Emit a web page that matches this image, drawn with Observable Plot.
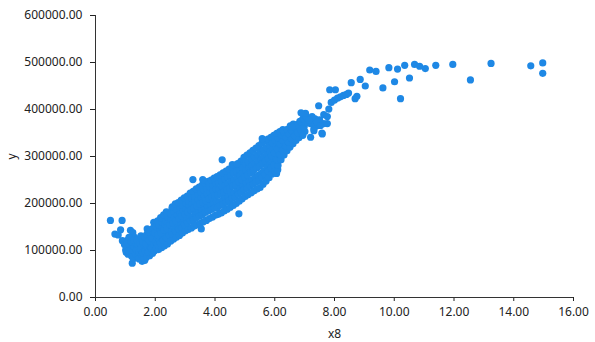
<!DOCTYPE html>
<html>
<head>
<meta charset="utf-8">
<script src="https://cdn.jsdelivr.net/npm/d3@7"></script>
<script src="https://cdn.jsdelivr.net/npm/@observablehq/plot@0.6"></script>
<style>
  html, body { margin: 0; padding: 0; background: #fff; }
  #chart svg { display: block; }
</style>
</head>
<body>
<div id="chart"></div>
<script>
const xTicks = [0, 2, 4, 6, 8, 10, 12, 14, 16];
const yTicks = [0, 100000, 200000, 300000, 400000, 500000, 600000];
const xLabel = "x8";
const yLabel = "y";

// [x8, y] pairs
const points = [
  // sparse left edge
  [0.50,164000],[0.89,164000],[0.65,135000],[0.76,133000],[0.84,144000],[1.17,143000],[1.25,138000],
  [1.31,128000],[0.95,118000],[0.90,121000],[1.23,73000],[1.56,77000],[1.65,79000],[1.73,146000],[1.95,160000],
  // main band
  [1.01,101000],[0.97,113000],[1.05,121000],[1.03,96000],
  [1.09,92000],[1.14,104000],[1.07,117000],[1.12,128000],[1.11,99000],
  [1.21,88000],[1.17,101000],[1.25,109000],[1.19,119000],
  [1.27,83000],[1.34,93000],[1.30,108000],[1.36,115000],[1.28,122000],
  [1.41,87000],[1.37,101000],[1.45,96000],[1.43,113000],[1.39,123000],
  [1.46,82000],[1.54,91000],[1.51,104000],[1.49,116000],[1.56,124000],[1.52,131000],
  [1.61,84000],[1.57,95000],[1.66,101000],[1.62,112000],[1.58,119000],[1.64,129000],
  [1.71,86000],[1.67,98000],[1.75,106000],[1.69,114000],[1.74,125000],[1.72,135000],
  [1.81,89000],[1.77,97000],[1.84,108000],[1.80,121000],[1.86,129000],[1.78,139000],
  [1.91,94000],[1.87,105000],[1.95,113000],[1.89,126000],[1.94,139000],[1.92,147000],
  [1.97,99000],[2.04,104000],[2.01,118000],[2.06,129000],[1.99,137000],[2.03,151000],[2.05,158000],
  [2.11,102000],[2.07,114000],[2.14,122000],[2.09,133000],[2.16,145000],[2.12,154000],[2.08,163000],
  [2.21,106000],[2.17,116000],[2.25,127000],[2.19,138000],[2.24,149000],[2.22,161000],[2.18,170000],
  [2.31,110000],[2.27,122000],[2.35,130000],[2.29,144000],[2.33,156000],[2.36,163000],[2.28,176000],
  [2.41,114000],[2.38,127000],[2.45,137000],[2.39,148000],[2.44,161000],[2.42,171000],[2.37,182000],
  [2.52,120000],[2.47,133000],[2.55,141000],[2.49,155000],[2.54,166000],[2.51,178000],[2.56,189000],
  [2.61,124000],[2.58,134000],[2.65,147000],[2.59,158000],[2.64,170000],[2.62,183000],[2.57,193000],
  [2.71,128000],[2.68,141000],[2.75,150000],[2.69,163000],[2.74,176000],[2.72,187000],[2.67,199000],
  [2.81,132000],[2.78,146000],[2.85,156000],[2.79,168000],[2.84,179000],[2.82,193000],[2.77,202000],
  [2.91,137000],[2.88,148000],[2.95,160000],[2.89,173000],[2.94,185000],[2.92,196000],[2.87,207000],
  [3.01,142000],[2.98,155000],[3.05,165000],[2.99,177000],[3.04,189000],[3.02,201000],[2.97,212000],
  [3.11,145000],[3.08,159000],[3.15,169000],[3.09,182000],[3.14,195000],[3.12,205000],[3.07,216000],
  [3.21,148000],[3.18,163000],[3.25,172000],[3.19,186000],[3.24,199000],[3.22,211000],[3.17,222000],
  [3.31,152000],[3.28,166000],[3.35,178000],[3.29,190000],[3.34,204000],[3.32,215000],[3.27,226000],
  [3.41,155000],[3.38,170000],[3.45,181000],[3.39,195000],[3.44,208000],[3.42,221000],[3.37,231000],
  [3.51,158000],[3.48,173000],[3.55,186000],[3.49,199000],[3.54,212000],[3.52,225000],[3.47,235000],
  [3.61,161000],[3.58,176000],[3.65,190000],[3.59,202000],[3.64,216000],[3.62,229000],[3.57,239000],
  [3.71,164000],[3.68,181000],[3.75,193000],[3.69,206000],[3.74,220000],[3.72,232000],[3.67,243000],
  [3.81,168000],[3.78,184000],[3.85,197000],[3.79,210000],[3.84,224000],[3.82,236000],[3.77,247000],
  [3.91,171000],[3.88,187000],[3.95,201000],[3.89,214000],[3.94,227000],[3.92,240000],[3.87,250000],
  [4.01,175000],[3.98,190000],[4.05,205000],[3.99,217000],[4.04,231000],[4.02,244000],[3.97,254000],
  [4.11,177000],[4.08,191000],[4.15,203000],[4.09,218000],[4.14,230000],[4.12,245000],[4.07,257000],
  [4.21,180000],[4.18,196000],[4.25,207000],[4.19,221000],[4.24,236000],[4.22,248000],[4.17,261000],
  [4.31,184000],[4.28,198000],[4.35,212000],[4.29,224000],[4.34,239000],[4.32,252000],[4.27,265000],
  [4.41,188000],[4.38,203000],[4.45,215000],[4.39,229000],[4.44,242000],[4.42,257000],[4.37,269000],
  [4.51,192000],[4.48,206000],[4.55,220000],[4.49,232000],[4.54,247000],[4.52,260000],[4.47,273000],
  [4.61,196000],[4.58,211000],[4.65,223000],[4.59,237000],[4.64,250000],[4.62,265000],[4.57,277000],
  [4.71,200000],[4.68,214000],[4.75,228000],[4.69,240000],[4.74,255000],[4.72,268000],[4.67,281000],
  [4.81,205000],[4.78,220000],[4.85,232000],[4.79,246000],[4.84,259000],[4.82,273000],[4.77,285000],
  [4.91,210000],[4.88,224000],[4.95,238000],[4.89,250000],[4.94,265000],[4.92,277000],[4.87,290000],
  [5.01,215000],[4.98,230000],[5.05,243000],[4.99,257000],[5.04,271000],[5.02,285000],[4.97,298000],
  [5.11,219000],[5.08,233000],[5.15,248000],[5.09,261000],[5.14,276000],[5.12,289000],[5.07,303000],
  [5.21,223000],[5.18,238000],[5.25,251000],[5.19,266000],[5.24,280000],[5.22,295000],[5.17,308000],
  [5.31,227000],[5.28,241000],[5.35,256000],[5.29,270000],[5.34,285000],[5.32,299000],[5.27,313000],
  [5.41,231000],[5.38,246000],[5.45,260000],[5.39,275000],[5.44,290000],[5.42,304000],[5.37,318000],
  [5.51,234000],[5.48,249000],[5.55,264000],[5.49,279000],[5.54,294000],[5.52,309000],[5.47,323000],
  [5.61,241000],[5.58,256000],[5.65,270000],[5.59,285000],[5.64,299000],[5.62,314000],[5.57,328000],
  [5.71,248000],[5.68,262000],[5.75,277000],[5.69,290000],[5.74,305000],[5.72,319000],[5.67,333000],
  [5.81,255000],[5.78,269000],[5.85,283000],[5.79,296000],[5.84,310000],[5.82,324000],[5.77,337000],
  [5.91,263000],[5.88,276000],[5.95,290000],[5.89,302000],[5.94,316000],[5.92,329000],[5.87,341000],
  [6.01,269000],[5.98,282000],[6.05,295000],[5.99,308000],[6.04,321000],[6.02,334000],[5.97,345000],
  [6.06,264000],[6.10,272000],
  [6.11,281000],[6.08,293000],[6.15,305000],[6.09,316000],[6.14,328000],[6.12,339000],[6.07,349000],
  [6.21,293000],[6.18,304000],[6.25,315000],[6.19,326000],[6.24,336000],[6.22,346000],[6.17,353000],
  [6.31,303000],[6.28,313000],[6.35,324000],[6.29,334000],[6.34,343000],[6.32,351000],[6.27,357000],
  [6.41,312000],[6.38,322000],[6.45,331000],[6.39,340000],[6.44,349000],[6.42,358000],
  [6.51,320000],[6.48,330000],[6.55,339000],[6.49,348000],[6.54,357000],[6.52,365000],
  [6.61,327000],[6.58,337000],[6.65,346000],[6.59,354000],[6.64,362000],[6.62,369000],
  [6.71,334000],[6.68,344000],[6.75,353000],[6.69,361000],[6.74,368000],
  [6.81,340000],[6.78,350000],[6.85,359000],[6.79,367000],[6.84,375000],
  [6.91,347000],[6.88,356000],[6.95,365000],[6.89,373000],[6.94,380000],
  [7.01,353000],[6.98,362000],[7.05,371000],[6.99,379000],[7.04,386000],
  // upper/lower outliers of the band
  [3.26,251000],[3.59,251000],[4.24,293000],[4.58,283000],[4.74,284000],[3.54,146000],[4.80,178000],
  [5.58,338000],[6.58,362000],
  // sparser right part
  [7.03,392000],[6.88,393000],[7.20,341000],[6.94,345000],[7.31,359000],[7.20,370000],[7.10,372000],
  [7.40,365000],[7.47,408000],[7.58,350000],[7.64,389000],[7.76,385000],[7.81,401000],[7.76,370000],
  [7.64,370000],[7.59,348000],[7.50,378000],[7.35,380000],[7.25,385000],[7.42,373000],[7.53,366000],
  [7.14,377000],[7.31,355000],[7.84,442000],[8.03,442000],[7.89,415000],[8.00,420000],[8.10,424000],
  [8.20,427000],[8.30,430000],[8.40,432000],[8.47,435000],[8.56,457000],[8.69,423000],[8.75,428000],
  [8.86,464000],[9.03,450000],[9.18,484000],[9.39,481000],[9.62,446000],[9.82,489000],[10.01,459000],
  [10.11,486000],[10.21,423000],[10.35,494000],[10.51,467000],[10.68,496000],[10.85,492000],
  [11.04,487000],[11.39,494000],[11.96,496000],[12.55,463000],[13.24,498000],[14.57,493000],
  [14.97,499000],[14.97,477000]
];

const data = points.map(([x8, y]) => ({x8, y}));

const chart = Plot.plot({
  width: 595,
  height: 342,
  marginLeft: 95,
  marginRight: 22,
  marginTop: 15,
  marginBottom: 45,
  style: {fontFamily: "'Noto Sans', sans-serif", fontSize: "12px", color: "#222", background: "#fff"},
  x: {domain: [0, 16]},
  y: {domain: [0, 600000]},
  marks: [
    Plot.axisY({ticks: yTicks, tickFormat: d3.format(".2f"), tickSize: 5, tickPadding: 8,
      label: yLabel, labelAnchor: "center", labelOffset: 88, labelArrow: false, fontSize: 12}),
    Plot.axisX({ticks: xTicks, tickFormat: d3.format(".2f"), tickSize: 4, tickPadding: 6,
      label: xLabel, labelAnchor: "center", labelOffset: 40, labelArrow: false, fontSize: 12}),
    Plot.ruleX([0], {stroke: "#333"}),
    Plot.ruleY([0], {stroke: "#333"}),
    Plot.dot(data, {x: "x8", y: "y", r: 3.6, fill: "#1e88e5", stroke: "none"})
  ]
});
document.getElementById("chart").appendChild(chart);
</script>
</body>
</html>
